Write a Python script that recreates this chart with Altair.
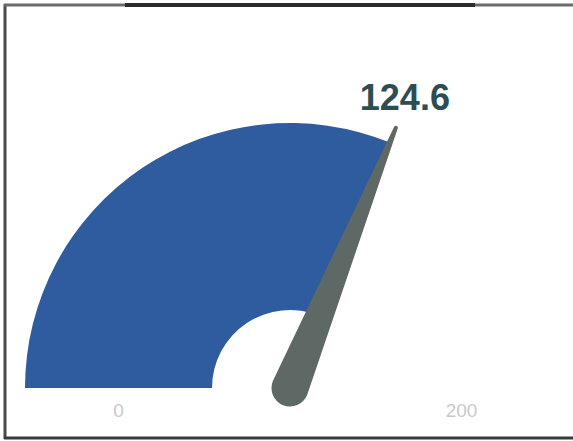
import math
import altair as alt
import pandas as pd

# ---- data ----
value = [124.6]
gauge_min = [0]
gauge_max = [200]
tick_labels = ["0", "200"]

VMIN, VMAX, VAL = gauge_min[0], gauge_max[0], value[0]

W, H = 573, 441
CX, CY = 290, 388           # gauge centre in pixels
R_OUT = 265                 # outer radius px
R_IN = 78                   # inner radius px
NEEDLE_LEN = 1.06           # relative to outer radius

xs = alt.Scale(domain=[-CX / R_OUT, (W - CX) / R_OUT], range=[0, W])
ys = alt.Scale(domain=[-(H - CY) / R_OUT, CY / R_OUT], range=[H, 0])

band_df = pd.DataFrame({"start": [VMIN], "end": [VAL]})
band = alt.Chart(band_df).mark_arc(
    radius=R_OUT, radius2=R_IN, color="#2e5c9e"
).encode(
    theta=alt.Theta("start:Q", stack=None,
                    scale=alt.Scale(domain=[VMIN, VMAX], range=[-math.pi / 2, math.pi / 2])),
    theta2="end:Q",
    x=alt.value(CX),
    y=alt.value(CY),
)

ang = math.pi * (1 - (VAL - VMIN) / (VMAX - VMIN))
needle_df = pd.DataFrame({
    "x": [0.0, NEEDLE_LEN * math.cos(ang)],
    "y": [0.0, NEEDLE_LEN * math.sin(ang)],
    "w": [37, 4],
    "o": [0, 1],
})
needle = alt.Chart(needle_df).mark_trail(color="#5e6966").encode(
    x=alt.X("x:Q", scale=xs, axis=None),
    y=alt.Y("y:Q", scale=ys, axis=None),
    size=alt.Size("w:Q", scale=None, legend=None),
    order="o:Q",
)
hub = alt.Chart(needle_df.iloc[[0]]).mark_point(
    filled=True, shape="circle", size=math.pi * 18.5 ** 2, color="#5e6966", opacity=1
).encode(
    x=alt.X("x:Q", scale=xs, axis=None),
    y=alt.Y("y:Q", scale=ys, axis=None),
)

val_df = pd.DataFrame({"x": [needle_df["x"][1]], "y": [needle_df["y"][1]], "t": [f"{VAL}"]})
val_text = alt.Chart(val_df).mark_text(
    font="Liberation Sans", fontWeight="bold", fontSize=36, color="#2c4d53",
    baseline="alphabetic", align="center", dx=9, dy=-18
).encode(
    x=alt.X("x:Q", scale=xs, axis=None),
    y=alt.Y("y:Q", scale=ys, axis=None),
    text="t:N",
)

mid = (1 + R_IN / R_OUT) / 2
lab_df = pd.DataFrame({"x": [-mid, mid], "y": [0, 0], "t": tick_labels})
labels = alt.Chart(lab_df).mark_text(
    font="Liberation Sans", fontSize=19, color="#c9c9c9",
    baseline="middle", align="center", dy=23
).encode(
    x=alt.X("x:Q", scale=xs, axis=None),
    y=alt.Y("y:Q", scale=ys, axis=None),
    text="t:N",
)

# decorative frame
frame_df = pd.DataFrame({"k": [0]})
left = alt.Chart(frame_df).mark_rule(color="#4a4a4a", strokeWidth=3).encode(
    x=alt.value(5), y=alt.value(4), y2=alt.value(439))
top = alt.Chart(frame_df).mark_rule(color="#6a6a6a", strokeWidth=3).encode(
    x=alt.value(4), x2=alt.value(W), y=alt.value(5))
top_dark = alt.Chart(frame_df).mark_rule(color="#2a2a2a", strokeWidth=4).encode(
    x=alt.value(125), x2=alt.value(475), y=alt.value(5))
bottom = alt.Chart(frame_df).mark_rule(color="#3a3a3a", strokeWidth=3).encode(
    x=alt.value(4), x2=alt.value(W), y=alt.value(438))

chart = alt.layer(band, needle, hub, val_text, labels, left, top, top_dark, bottom).properties(
    width=W, height=H, padding=0, autosize=alt.AutoSizeParams(type="none"),
    background="white",
).configure_view(stroke=None)

chart.save("out.html", embed_options={"renderer": "svg", "actions": False})
